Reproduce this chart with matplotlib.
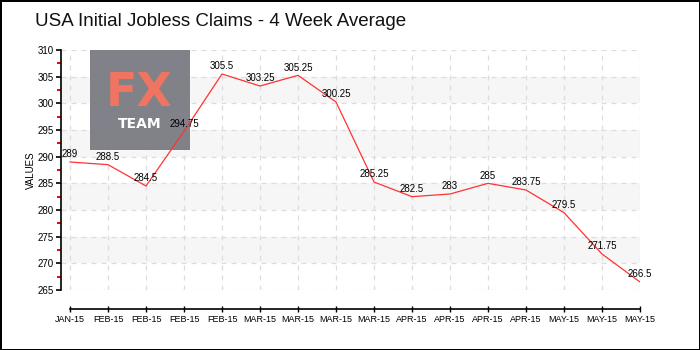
import matplotlib.pyplot as plt
from matplotlib.patches import Rectangle

# 4-week average of initial jobless claims (thousands)
dates = ["JAN-15", "FEB-15", "FEB-15", "FEB-15", "FEB-15",
         "MAR-15", "MAR-15", "MAR-15", "MAR-15",
         "APR-15", "APR-15", "APR-15", "APR-15",
         "MAY-15", "MAY-15", "MAY-15"]
values = [289, 288.5, 284.5, 294.75, 305.5, 303.25, 305.25, 300.25,
          285.25, 282.5, 283, 285, 283.75, 279.5, 271.75, 266.5]
y_ticks = [265, 270, 275, 280, 285, 290, 295, 300, 305, 310]

label_font = ["Liberation Sans", "DejaVu Sans"]

fig = plt.figure(figsize=(7, 3.5), dpi=100)
fig.patch.set_facecolor("white")
fig.patch.set_edgecolor("black")
fig.patch.set_linewidth(2)

ax = fig.add_axes([61 / 700, 1 - 290 / 350, 579 / 700, 240 / 350])
x = list(range(len(values)))

# spines first: moving a spine resets the ticks
for s in ("top", "right"):
    ax.spines[s].set_visible(False)
ax.spines["bottom"].set_position(("outward", 14))
ax.spines["bottom"].set_bounds(0, len(values) - 1)
ax.spines["left"].set_bounds(265, 310)
ax.spines["left"].set_linewidth(1.2)
ax.spines["bottom"].set_linewidth(1.2)

# alternating light bands
for lo in (270, 280, 290, 300):
    ax.axhspan(lo, lo + 5, color="#f6f6f6", zorder=0, lw=0)

ax.set_xlim(-9 / 38, len(values) - 1)
ax.set_ylim(265, 310)
ax.set_xticks(x)
ax.set_xticklabels(dates, family=label_font, fontsize=6.5)
ax.set_yticks(y_ticks)
ax.set_yticklabels([str(v) for v in y_ticks], family=label_font, fontsize=7)
ax.set_yticks([v + 2.5 for v in y_ticks[:-1]], minor=True)

ax.grid(True, color="#dddddd", linestyle=(0, (4, 4)), linewidth=0.9)
ax.set_axisbelow(True)

ax.tick_params(axis="x", direction="inout", length=5, width=1, pad=1.5)
ax.tick_params(axis="y", which="major", direction="out", length=3.5, width=1.2, pad=2)
ax.tick_params(axis="y", which="minor", direction="out", length=3, width=1.4, colors="red")
ax.set_ylabel("VALUES", family=label_font, fontsize=7, labelpad=1)

# logo box sits above the grid but under the series
ax.add_patch(Rectangle((90 / 700, 1 - 150 / 350), 100 / 700, 100 / 350,
                       transform=fig.transFigure, facecolor="#7d7d85",
                       edgecolor="none", alpha=0.97, zorder=2))
ax.text(139 / 700, 1 - 94 / 350, "FX", color="#ef7461", fontsize=33,
        fontweight="bold", ha="center", va="center", family="DejaVu Sans",
        transform=fig.transFigure, zorder=2.5)
ax.text(140 / 700, 1 - 124 / 350, "TEAM", color="white", fontsize=10,
        fontweight="bold", ha="center", va="center", family="DejaVu Sans",
        transform=fig.transFigure, zorder=2.5)

ax.plot(x, values, color="#ff3333", linewidth=0.9, zorder=3)
for xi, v in zip(x, values):
    ax.annotate(f"{v:g}", (xi, v), xytext=(0, 2), textcoords="offset points",
                ha="center", va="bottom", family=label_font, fontsize=7, zorder=4)

fig.text(35 / 700, 1 - 22 / 350, "USA Initial Jobless Claims - 4 Week Average",
         family=label_font, fontsize=13.5, ha="left", va="center", color="#111111")

fig.savefig("out.png", dpi=100, facecolor=fig.get_facecolor(),
            edgecolor=fig.get_edgecolor())
